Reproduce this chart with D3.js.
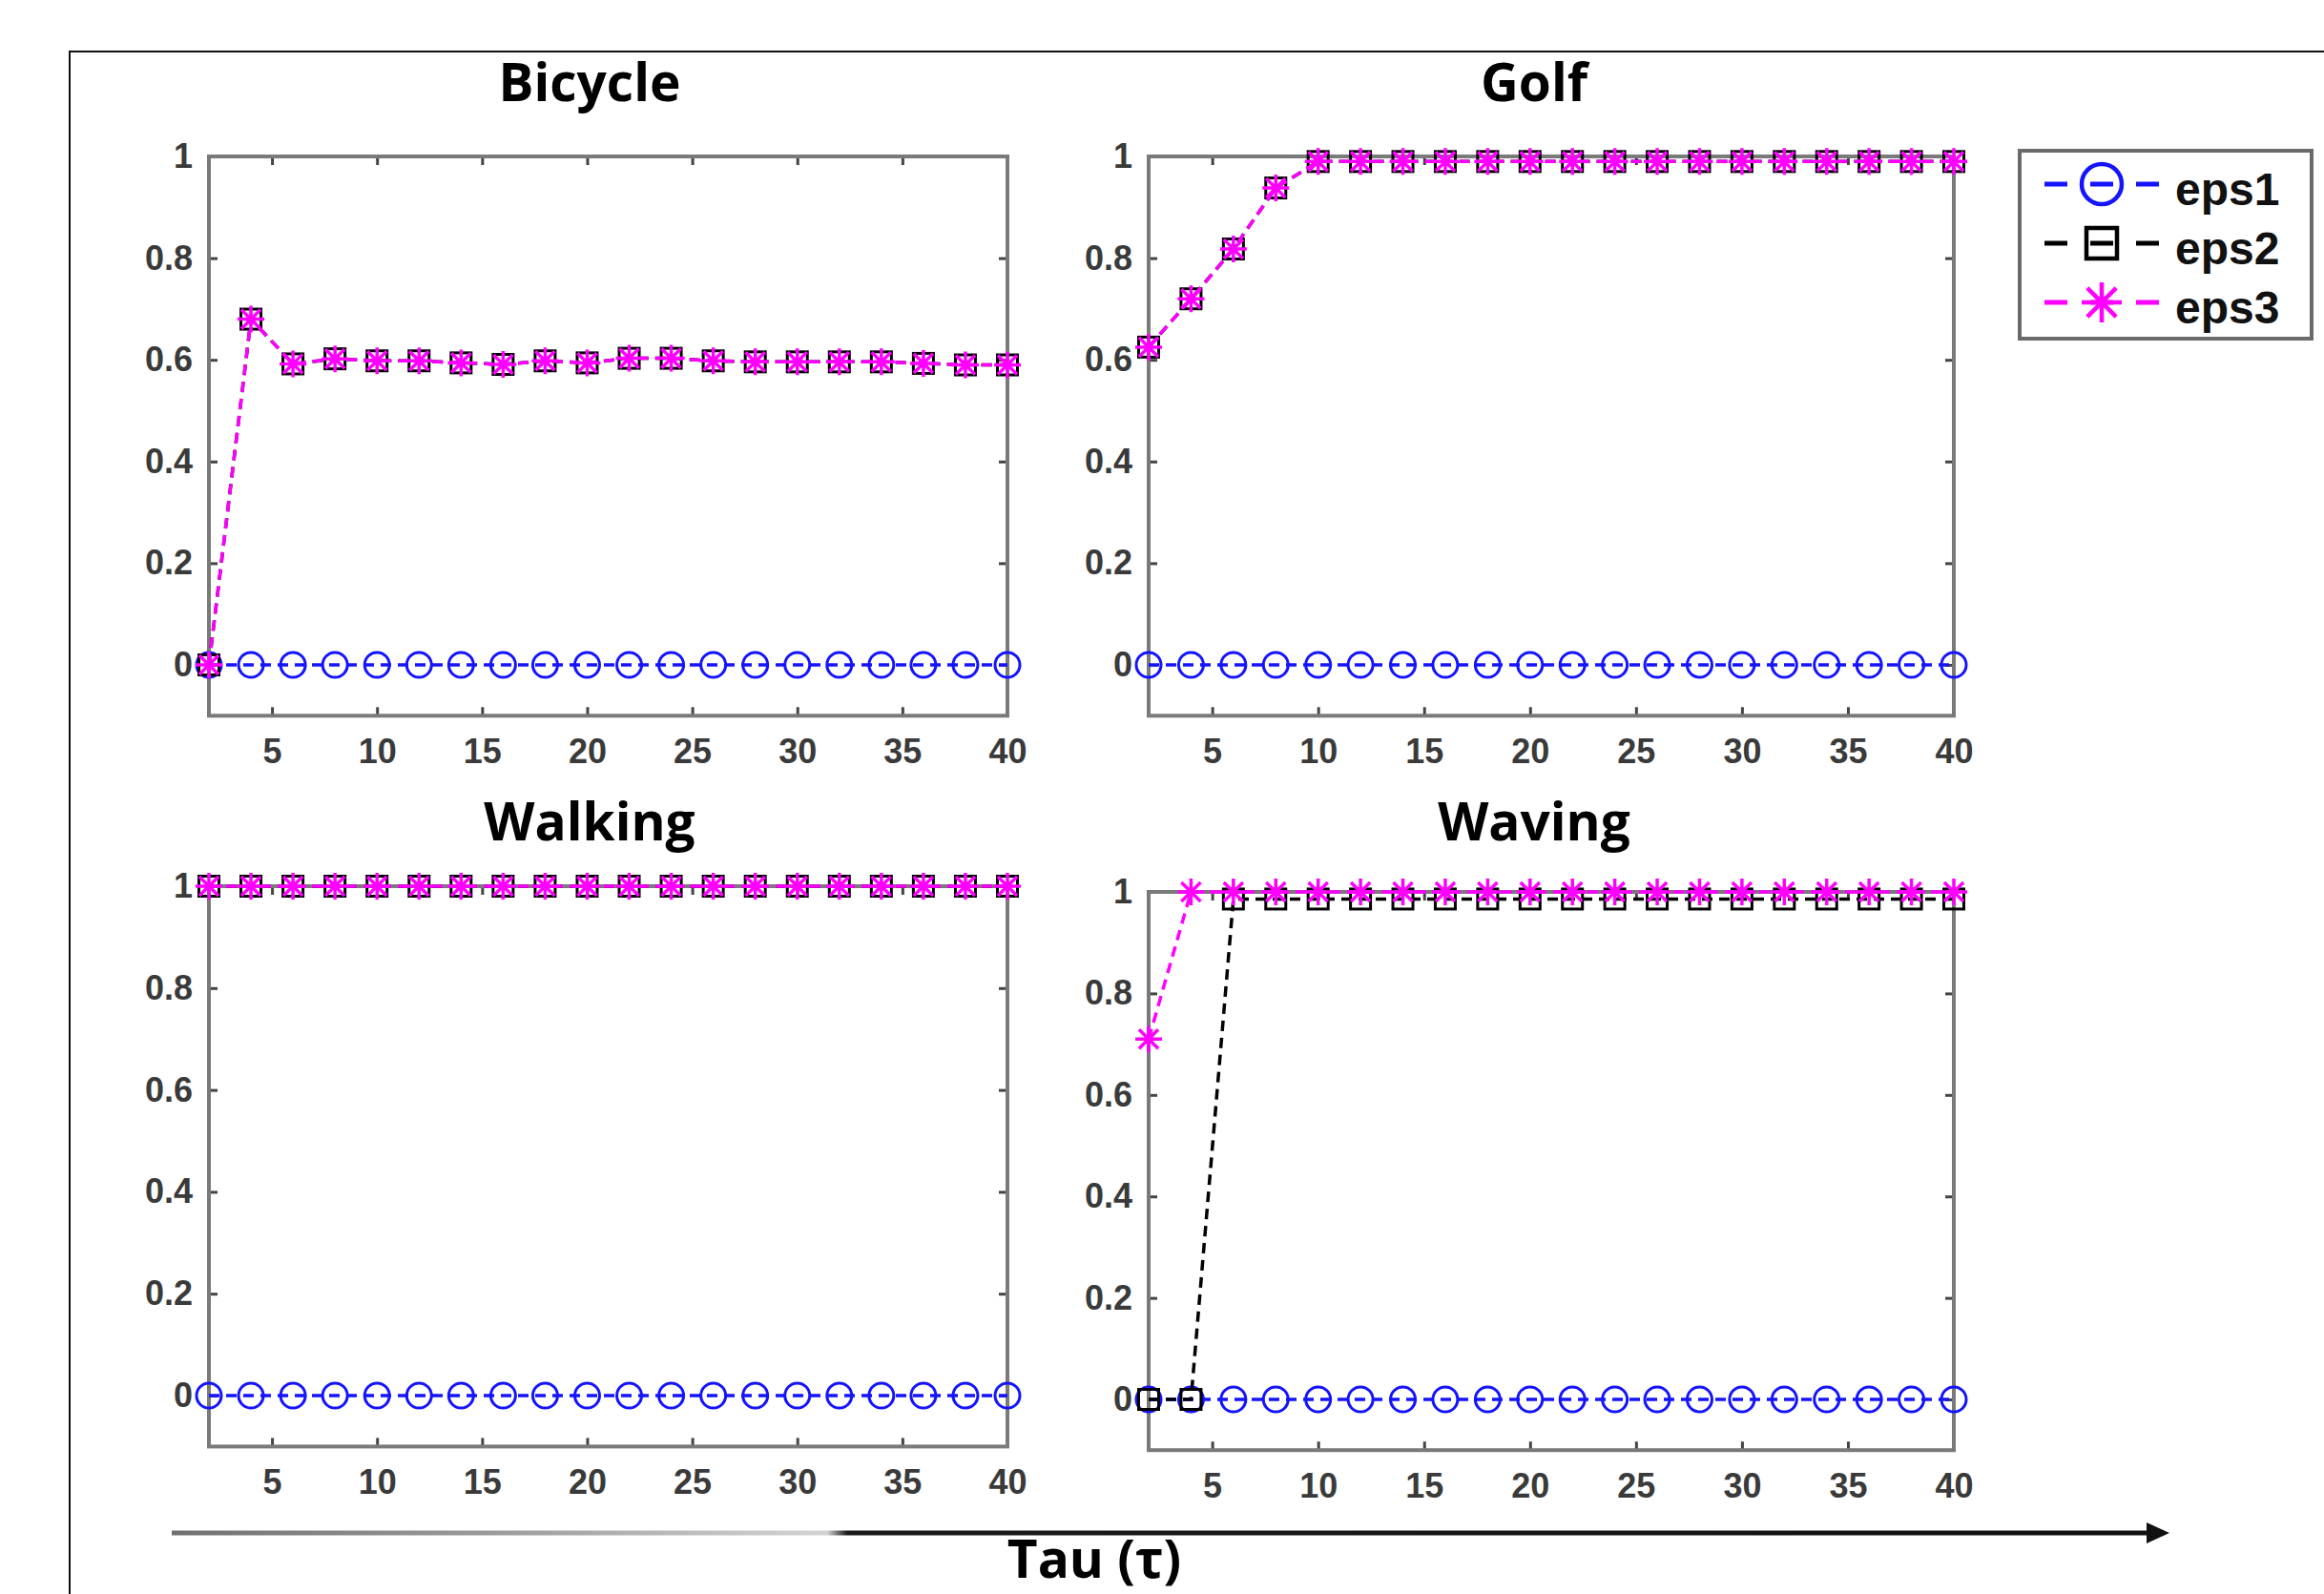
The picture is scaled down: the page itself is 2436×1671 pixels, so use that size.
<!DOCTYPE html>
<html>
<head>
<meta charset="utf-8">
<script src="https://cdn.jsdelivr.net/npm/d3@7"></script>
<style>
  body { margin: 0; background: #fff; }
  svg { display: block; }
  .tick text { font-family: "Liberation Sans", Arial, sans-serif; font-weight: bold; font-size: 36px; fill: #3a3a3a; }
  .title { font-family: "Open Sans", sans-serif; font-weight: bold; font-size: 55px; fill: #000; }
</style>
</head>
<body>
<svg id="chart" width="2436" height="1671"></svg>
<script>
// values
const tau = [2, 4, 6, 8, 10, 12, 14, 16, 18, 20, 22, 24, 26, 28, 30, 32, 34, 36, 38, 40];
const titles = ["Bicycle", "Golf", "Walking", "Waving"];
const seriesNames = ["eps1", "eps2", "eps3"];
const xTicks = [5, 10, 15, 20, 25, 30, 35, 40];
const yTicks = [0, 0.2, 0.4, 0.6, 0.8, 1];

const bicycleEps1 = [0, 0, 0, 0, 0, 0, 0, 0, 0, 0, 0, 0, 0, 0, 0, 0, 0, 0, 0, 0];
const bicycleEps2 = [0, 0.68, 0.592, 0.602, 0.598, 0.598, 0.594, 0.591, 0.598, 0.594, 0.603, 0.603, 0.598, 0.596, 0.596, 0.596, 0.596, 0.593, 0.59, 0.59];
const bicycleEps3 = [0, 0.68, 0.592, 0.602, 0.598, 0.598, 0.594, 0.591, 0.598, 0.594, 0.603, 0.603, 0.598, 0.596, 0.596, 0.596, 0.596, 0.593, 0.59, 0.59];

const golfEps1 = [0, 0, 0, 0, 0, 0, 0, 0, 0, 0, 0, 0, 0, 0, 0, 0, 0, 0, 0, 0];
const golfEps2 = [0.625, 0.72, 0.818, 0.938, 0.99, 0.99, 0.99, 0.99, 0.99, 0.99, 0.99, 0.99, 0.99, 0.99, 0.99, 0.99, 0.99, 0.99, 0.99, 0.99];
const golfEps3 = [0.625, 0.72, 0.818, 0.938, 0.99, 0.99, 0.99, 0.99, 0.99, 0.99, 0.99, 0.99, 0.99, 0.99, 0.99, 0.99, 0.99, 0.99, 0.99, 0.99];

const walkingEps1 = [0, 0, 0, 0, 0, 0, 0, 0, 0, 0, 0, 0, 0, 0, 0, 0, 0, 0, 0, 0];
const walkingEps2 = [1, 1, 1, 1, 1, 1, 1, 1, 1, 1, 1, 1, 1, 1, 1, 1, 1, 1, 1, 1];
const walkingEps3 = [1, 1, 1, 1, 1, 1, 1, 1, 1, 1, 1, 1, 1, 1, 1, 1, 1, 1, 1, 1];

const wavingEps1 = [0, 0, 0, 0, 0, 0, 0, 0, 0, 0, 0, 0, 0, 0, 0, 0, 0, 0, 0, 0];
const wavingEps2 = [0, 0, 0.986, 0.986, 0.986, 0.986, 0.986, 0.986, 0.986, 0.986, 0.986, 0.986, 0.986, 0.986, 0.986, 0.986, 0.986, 0.986, 0.986, 0.986];
const wavingEps3 = [0.71, 1, 1, 1, 1, 1, 1, 1, 1, 1, 1, 1, 1, 1, 1, 1, 1, 1, 1, 1];

const panelSeries = [
  [bicycleEps1, bicycleEps2, bicycleEps3],
  [golfEps1, golfEps2, golfEps3],
  [walkingEps1, walkingEps2, walkingEps3],
  [wavingEps1, wavingEps2, wavingEps3],
];

// drawing setup
const svg = d3.select("#chart");
const colors = ["#1414ff", "#000000", "#ff00ff"];
const markers = ["circle", "square", "star"];

const layout = [
  { left: 219, right: 1056, top: 164, zero: 697, titleX: 618, titleY: 106 },
  { left: 1204, right: 2048, top: 164, zero: 697, titleX: 1608, titleY: 106 },
  { left: 219, right: 1056, top: 929, zero: 1463, titleX: 618, titleY: 881 },
  { left: 1204, right: 2048, top: 935, zero: 1467, titleX: 1608, titleY: 881 },
];

// outer frame (only top and left edges visible)
svg.append("path")
  .attr("d", "M73,1671V54H2436")
  .attr("fill", "none")
  .attr("stroke", "#111")
  .attr("stroke-width", 2);

function drawMarker(g, type, x, y, s, color, sw) {
  if (type === "circle") {
    g.append("circle").attr("cx", x).attr("cy", y).attr("r", s / 2)
      .attr("fill", "none").attr("stroke", color).attr("stroke-width", sw);
  } else if (type === "square") {
    g.append("rect").attr("x", x - s / 2).attr("y", y - s / 2)
      .attr("width", s).attr("height", s)
      .attr("fill", "none").attr("stroke", color).attr("stroke-width", sw);
  } else {
    const h = s / 2, d = h * 0.72;
    g.append("path")
      .attr("d", `M${x - h},${y}H${x + h}M${x},${y - h}V${y + h}M${x - d},${y - d}L${x + d},${y + d}M${x - d},${y + d}L${x + d},${y - d}`)
      .attr("fill", "none").attr("stroke", color).attr("stroke-width", sw);
  }
}

layout.forEach((p, i) => {
  const bottom = p.zero + (p.zero - p.top) * 0.1;
  const x = d3.scaleLinear().domain([2, 40]).range([p.left, p.right]);
  const y = d3.scaleLinear().domain([-0.1, 1]).range([bottom, p.top]);
  const g = svg.append("g");

  g.append("text").attr("class", "title")
    .attr("x", p.titleX).attr("y", p.titleY)
    .attr("text-anchor", "middle").text(titles[i]);

  g.append("g").attr("transform", `translate(0,${bottom})`)
    .call(d3.axisBottom(x).tickValues(xTicks).tickSizeInner(-9).tickSizeOuter(0).tickPadding(24));
  g.append("g").attr("transform", `translate(0,${p.top})`)
    .call(d3.axisTop(x).tickValues(xTicks).tickSizeInner(-9).tickSizeOuter(0).tickFormat(""));
  g.append("g").attr("transform", `translate(${p.left},0)`)
    .call(d3.axisLeft(y).tickValues(yTicks).tickSizeInner(-9).tickSizeOuter(0).tickPadding(17).tickFormat(d3.format("~g")));
  g.append("g").attr("transform", `translate(${p.right},0)`)
    .call(d3.axisRight(y).tickValues(yTicks).tickSizeInner(-9).tickSizeOuter(0).tickFormat(""));
  g.selectAll(".domain").remove();
  g.selectAll(".tick line").attr("stroke", "#444").attr("stroke-width", 3);

  g.append("rect")
    .attr("x", p.left).attr("y", p.top)
    .attr("width", p.right - p.left).attr("height", bottom - p.top)
    .attr("fill", "none").attr("stroke", "#7a7a7a").attr("stroke-width", 4);

  const line = d3.line().x((d) => x(d[0])).y((d) => y(d[1]));
  panelSeries[i].forEach((vals, k) => {
    const pts = tau.map((t, j) => [t, vals[j]]);
    g.append("path").datum(pts)
      .attr("d", line)
      .attr("fill", "none")
      .attr("stroke", colors[k])
      .attr("stroke-width", 3.5)
      .attr("stroke-dasharray", "11,7");
    const mg = g.append("g");
    pts.forEach((d) => {
      const size = k === 0 ? 26 : k === 1 ? 21 : 28;
      drawMarker(mg, markers[k], x(d[0]), y(d[1]), size, colors[k], k === 2 ? 3.5 : 3);
    });
  });
});

// legend
const legend = svg.append("g");
legend.append("rect")
  .attr("x", 2117).attr("y", 158).attr("width", 306).attr("height", 197)
  .attr("fill", "#fff").attr("stroke", "#6a6a6a").attr("stroke-width", 4);
const legendY = d3.scalePoint().domain(seriesNames).range([193, 317]);
seriesNames.forEach((name, k) => {
  const ly = legendY(name);
  legend.append("line")
    .attr("x1", 2143).attr("x2", 2263).attr("y1", ly).attr("y2", ly)
    .attr("stroke", colors[k]).attr("stroke-width", 5)
    .attr("stroke-dasharray", "24,24");
  const size = k === 0 ? 42 : k === 1 ? 32 : 42;
  drawMarker(legend, markers[k], 2203, ly, size, colors[k], 4.5);
  legend.append("text")
    .attr("x", 2280).attr("y", ly + 22)
    .attr("font-family", "Liberation Sans, Arial, sans-serif")
    .attr("font-weight", "bold")
    .attr("font-size", 48)
    .attr("fill", "#111")
    .text(name);
});

// tau arrow along the bottom
const defs = svg.append("defs");
const grad = defs.append("linearGradient").attr("id", "arrowGrad")
  .attr("gradientUnits", "userSpaceOnUse")
  .attr("x1", 180).attr("x2", 2262).attr("y1", 0).attr("y2", 0);
[[0, "#707070"], [0.16, "#9a9a9a"], [0.33, "#d4d4d4"], [0.34, "#1a1a1a"], [1, "#111"]]
  .forEach(([o, c]) => grad.append("stop").attr("offset", o).attr("stop-color", c));
svg.append("line")
  .attr("x1", 180).attr("x2", 2258).attr("y1", 1607).attr("y2", 1607)
  .attr("stroke", "url(#arrowGrad)").attr("stroke-width", 5);
svg.append("path")
  .attr("d", "M2274,1607L2250,1596L2250,1618Z")
  .attr("fill", "#111");
svg.append("text").attr("class", "title")
  .attr("x", 1147).attr("y", 1654)
  .attr("text-anchor", "middle")
  .attr("font-size", 56)
  .text("Tau (τ)");
</script>
</body>
</html>
